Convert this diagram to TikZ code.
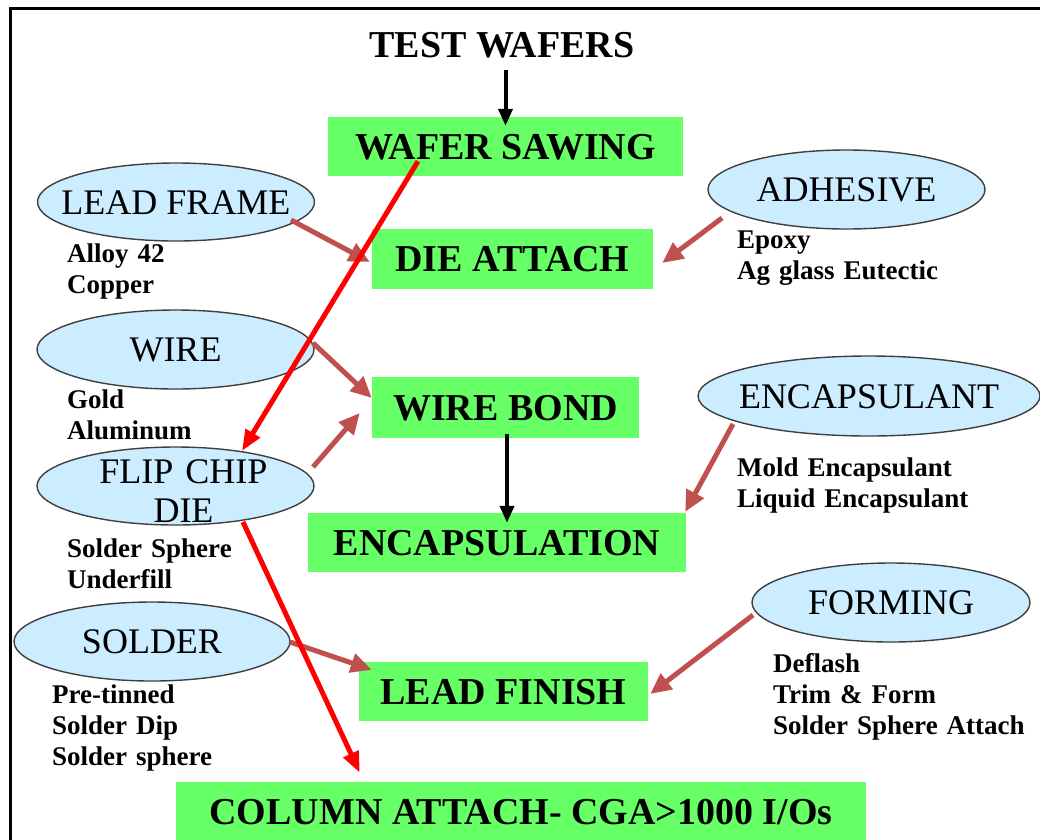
\documentclass[tikz,border=0pt]{standalone}
\usepackage{fontspec}
\setmainfont{Liberation Serif}
\usetikzlibrary{arrows.meta,calc,shapes.geometric}
\definecolor{stepgreen}{HTML}{66FF66}
\definecolor{matblue}{HTML}{CCECFF}
\definecolor{matedge}{HTML}{3F3F3F}
\definecolor{feedred}{HTML}{C0504D}
\begin{document}
\begin{tikzpicture}[x=1pt,y=-1pt,
  stepbox/.style={fill=stepgreen, draw=none, inner sep=0pt,
    font=\fontsize{38}{44}\selectfont\bfseries, text height=25pt, text depth=0pt},
  material/.style={ellipse, fill=matblue, draw=matedge, line width=1.4pt, inner sep=0pt},
  mattext/.style={font=\fontsize{36}{39}\selectfont, text height=24pt, text depth=0pt, inner sep=0pt},
  notes/.style={font=\fontsize{27}{31}\selectfont\bfseries, text width=300pt, align=left,
    inner sep=0pt, anchor=base west},
  feedarrow/.style={draw=feedred, line width=5pt, -{Triangle[length=21pt,width=19pt]}},
  flowarrow/.style={draw=red, line width=5pt, -{Triangle[length=21pt,width=16pt]}},
  mainarrow/.style={draw=black, line width=4pt, -{Triangle[length=17pt,width=14pt]}}
]
\useasboundingbox (0,0) rectangle (1040,839);
\clip (0,0) rectangle (1040,839);

% outer frame
\draw[line width=3pt] (10,8) rectangle (1060,860);

% title
\node[font=\fontsize{38}{44}\selectfont\bfseries, inner sep=0pt, anchor=base] (tw) at (502,57) {TEST WAFERS};

% process steps
\node[stepbox, minimum width=355pt, minimum height=59pt] (ws) at (505.5,146.5) {WAFER SAWING};
\node[stepbox, minimum width=281pt, minimum height=60pt] (da) at (512.5,259) {DIE ATTACH};
\node[stepbox, minimum width=267pt, minimum height=61pt] (wb) at (505.5,407.5) {WIRE BOND};
\node[stepbox, minimum width=378pt, minimum height=59pt] (ec) at (497,542.5) {ENCAPSULATION};
\node[stepbox, minimum width=289pt, minimum height=59pt] (lfin) at (503.5,691.5) {LEAD FINISH};
\node[stepbox, minimum width=690pt, minimum height=59pt] (ca) at (521,811.5) {COLUMN ATTACH- CGA>1000 I/Os};

% materials
\node[material, minimum width=277pt, minimum height=78pt] (lf) at (176,202) {};
\node[material, minimum width=277pt, minimum height=79pt] (ad) at (846.5,189.5) {};
\node[material, minimum width=277pt, minimum height=79pt] (wi) at (175.5,349.5) {};
\node[material, minimum width=342pt, minimum height=80pt] (en) at (869,396) {};
\node[material, minimum width=277pt, minimum height=78pt] (fc) at (175.5,486) {};
\node[material, minimum width=278pt, minimum height=79pt] (fo) at (891,602.5) {};
\node[material, minimum width=276pt, minimum height=79pt] (so) at (152,641.5) {};

\node[mattext] (lf-t) at (lf.center) {LEAD FRAME};
\node[mattext] (ad-t) at (ad.center) {ADHESIVE};
\node[mattext] (wi-t) at (wi.center) {WIRE};
\node[mattext] (en-t) at (en.center) {ENCAPSULANT};
\node[font=\fontsize{36}{39}\selectfont, text width=277pt, align=center, inner sep=0pt, anchor=base]
  (fc-t) at ($(fc.center)+(8,-3)$) {FLIP CHIP\\DIE};
\node[mattext] (fo-t) at (fo.center) {FORMING};
\node[mattext] (so-t) at (so.center) {SOLDER};

% material options
\node[notes] (lf-n) at (67,262) {Alloy 42\\Copper};
\node[notes] (ad-n) at (737,248) {Epoxy\\Ag glass Eutectic};
\node[notes] (wi-n) at (67,408) {Gold\\Aluminum};
\node[notes] (en-n) at (737,476) {Mold Encapsulant\\Liquid Encapsulant};
\node[notes] (fc-n) at (67,557) {Solder Sphere\\Underfill};
\node[notes] (so-n) at (52,703) {Pre-tinned\\Solder Dip\\Solder sphere};
\node[notes] (fo-n) at (773,672) {Deflash\\Trim \& Form\\Solder Sphere Attach};

% main flow
\draw[mainarrow] ($(ws.north)+(0,-47)$) -- ($(ws.north)+(0,9)$);
\draw[mainarrow] ($(wb.south)+(1.5,-4)$) -- ($(ec.north)+(10,10)$);

% material feeds
\draw[feedarrow] ($(lf.center)+(115,18)$) -- ($(da.west)+(-2,3)$);
\draw[feedarrow] ($(ad.center)+(-124.5,28.5)$) -- ($(da.east)+(9,4)$);
\draw[feedarrow] ($(wi.center)+(137.5,-6.5)$) -- ($(wb.west)+(0,-9.5)$);
\draw[feedarrow] ($(fc.center)+(137.5,-19)$) -- ($(wb.west)+(-12,5.5)$);
\draw[feedarrow] ($(en.center)+(-136,28)$) -- ($(ec.north east)+(-1,-1)$);
\draw[feedarrow] ($(so.center)+(138,0.5)$) -- ($(lfin.north west)+(13,8)$);
\draw[feedarrow] ($(fo.center)+(-138,12.5)$) -- ($(lfin.east)+(2,2.5)$);

% flip chip route
\draw[flowarrow] ($(ws.south)+(-87.5,-15)$) -- ($(fc.center)+(66.5,-35)$);
\draw[flowarrow] ($(fc.center)+(67.5,36)$) -- ($(ca.north west)+(184,-9)$);
\end{tikzpicture}
\end{document}
